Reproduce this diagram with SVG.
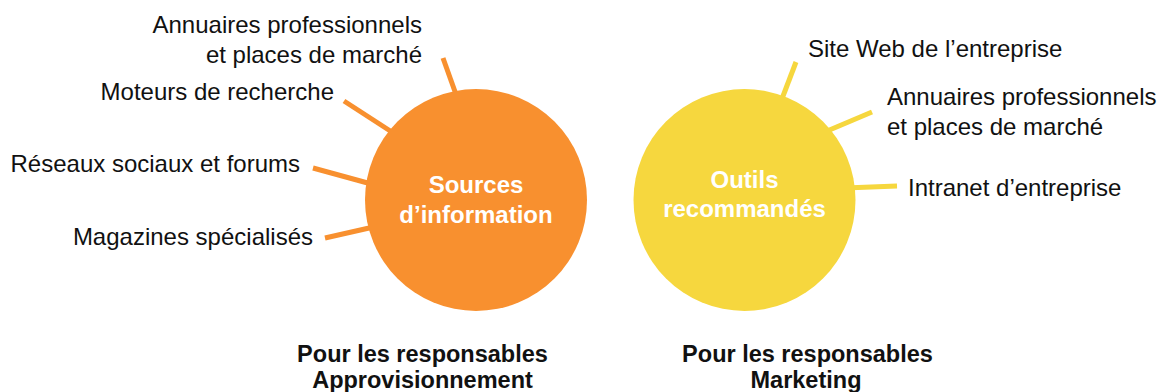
<svg xmlns="http://www.w3.org/2000/svg" width="1157" height="392" viewBox="0 0 1157 392">
<style>
.lbl{font-family:"Liberation Sans",Arial,sans-serif;font-size:24px;fill:#111}
.ttl{font-family:"Liberation Sans",Arial,sans-serif;font-size:23.5px;font-weight:bold;fill:#111;text-anchor:middle}
.ctr{font-family:"Liberation Sans",Arial,sans-serif;font-size:24px;font-weight:bold;fill:#fff;text-anchor:middle}
.ro{stroke:#F8902F;stroke-width:5;fill:none}
.ry{stroke:#F6D73E;stroke-width:5;fill:none}
</style>
<rect width="1157" height="392" fill="#fff"/>
<g id="connectors">
<line class="ro" x1="443" y1="58" x2="458" y2="100"/>
<line class="ro" x1="344" y1="101" x2="398" y2="136"/>
<line class="ro" x1="313" y1="168" x2="375" y2="185"/>
<line class="ro" x1="325" y1="238" x2="378" y2="226"/>
<line class="ry" x1="796" y1="62" x2="780" y2="104"/>
<line class="ry" x1="872" y1="112" x2="820" y2="134"/>
<line class="ry" x1="897" y1="186" x2="845" y2="188"/>
</g>
<g id="node-sources">
<circle cx="476" cy="200" r="111" fill="#F8902F"/>
<text class="ctr" x="476" y="193">Sources</text>
<text class="ctr" x="476" y="223">d’information</text>
</g>
<g id="node-outils">
<circle cx="744.5" cy="200" r="111" fill="#F6D73E"/>
<text class="ctr" x="744.5" y="188">Outils</text>
<text class="ctr" x="744.5" y="217">recommandés</text>
</g>
<g id="label-annuaires-left">
<text class="lbl" x="422" y="33" text-anchor="end">Annuaires professionnels</text>
<text class="lbl" x="422" y="63" text-anchor="end">et places de marché</text>
</g>
<g id="label-moteurs"><text class="lbl" x="334" y="100" text-anchor="end">Moteurs de recherche</text></g>
<g id="label-reseaux"><text class="lbl" x="300" y="172" text-anchor="end">Réseaux sociaux et forums</text></g>
<g id="label-magazines"><text class="lbl" x="313" y="245" text-anchor="end">Magazines spécialisés</text></g>
<g id="label-site"><text class="lbl" x="808" y="57">Site Web de l’entreprise</text></g>
<g id="label-annuaires-right">
<text class="lbl" x="887" y="105">Annuaires professionnels</text>
<text class="lbl" x="887" y="135">et places de marché</text>
</g>
<g id="label-intranet"><text class="lbl" x="908" y="196">Intranet d’entreprise</text></g>
<g id="title-left">
<text class="ttl" x="422.5" y="362">Pour les responsables</text>
<text class="ttl" x="422.5" y="388">Approvisionnement</text>
</g>
<g id="title-right">
<text class="ttl" x="807.5" y="362">Pour les responsables</text>
<text class="ttl" x="806" y="388">Marketing</text>
</g>
</svg>
